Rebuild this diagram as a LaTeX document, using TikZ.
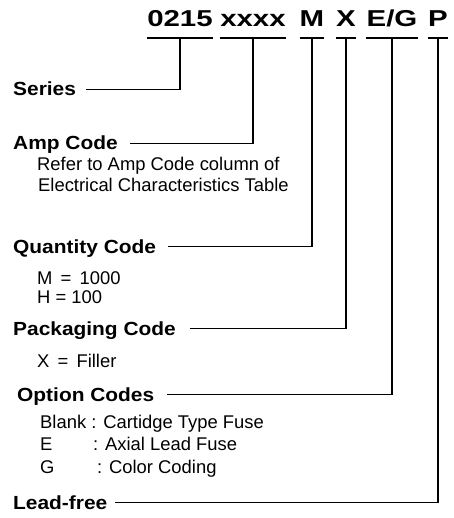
\documentclass[tikz,border=0pt]{standalone}
\usepackage{fontspec}
\setmainfont{Liberation Sans}
\newfontfamily\codefont[FakeStretch=1.28]{Liberation Sans Bold}
\newfontfamily\fieldfont[FakeStretch=1.1]{Liberation Sans Bold}
\usetikzlibrary{calc}
\tikzset{
  part number/.style={
    code/.style={font={\codefont\fontsize{23}{25}\selectfont},anchor=base,inner sep=0pt},
    code line/.style={black,line width=2.8pt},
    field/.style={font={\fieldfont\fontsize{19}{21}\selectfont},anchor=base west,inner sep=0pt},
    field note/.style={font={\fontsize{18.4}{20}\selectfont},anchor=base west,inner sep=0pt},
    lead/.style={black,line width=1.4pt,line cap=rect},
  }}

\begin{document}
\begin{tikzpicture}[part number,x=1pt,y=-1pt]
    \useasboundingbox (0,0) rectangle (453,518);
    % the part number, each field underlined
    \foreach \n/\t/\x in {c0215/0215/180, cxxxx/xxxx/253, cM/M/312,
                          cX/X/346, cEG/E\slash G/392, cP/P/438}{
        \node[code] (\n) at (\x,27) {\t};
        \draw[code line] ([yshift=-11pt]\n.base west) -- ([yshift=-11pt]\n.base east);
    }
    % field names and their leads
    \foreach \n/\t/\x/\y/\c/\g in {series/Series/13/96/c0215/11,
                                   amp/Amp Code/13/150/cxxxx/13,
                                   qty/Quantity Code/13/253/cM/12,
                                   pkg/Packaging Code/13/335/cX/15,
                                   opt/Option Codes/17/401/cEG/13,
                                   lead/Lead-free/13/509/cP/8}{
        \node[field] (\n) at (\x,\y) {\t};
        \draw[lead] ([yshift=-11pt]\c.base) |- ([xshift=\g pt,yshift=6.5pt]\n.base east);
    }
    % notes under the fields
    \node[field note] (amp1) at (37,171) {Refer to Amp Code column of};
    \node[field note] (amp2) at (38,192) {Electrical Characteristics Table};
    \node[field note] (qty1) at (37,284) {M \,=\, 1000};
    \node[field note] (qty2) at (37,303) {H = 100};
    \node[field note] (pkg1) at (37,367) {X \,=\, Filler};
    \node[field note] (opt1) at (40,428) {Blank : Cartidge Type Fuse};
    \node[field note] (opt2) at (40,450) {\makebox[53pt][l]{E}: Axial Lead Fuse};
    \node[field note] (opt3) at (40,473) {\makebox[57pt][l]{G}: Color Coding};
\end{tikzpicture}
\end{document}
